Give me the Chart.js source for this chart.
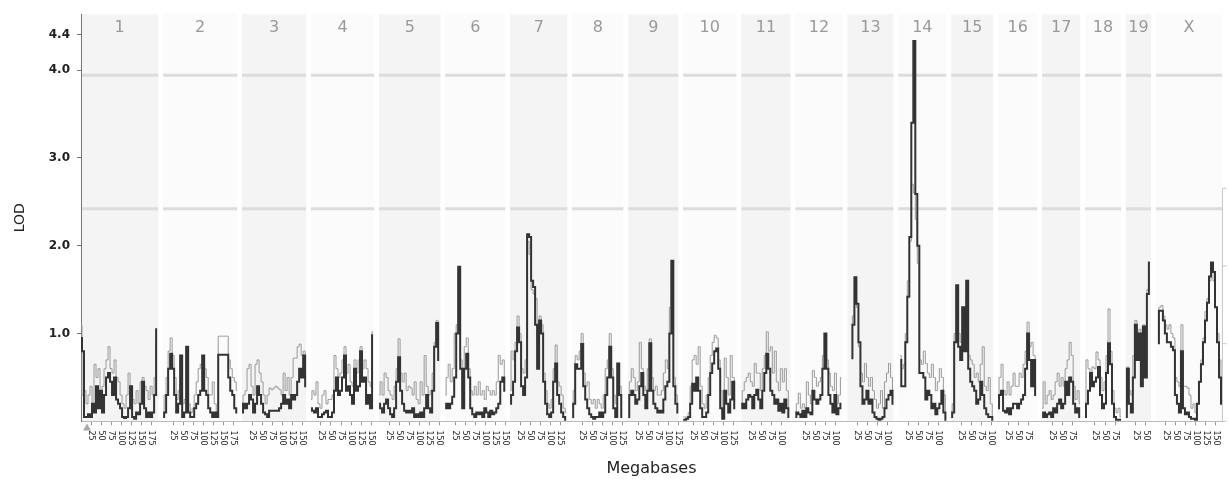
<!DOCTYPE html>
<html>
<head>
<meta charset="utf-8">
<script src="https://cdn.jsdelivr.net/npm/chart.js@4/dist/chart.umd.min.js"></script>
<style>
  html, body { margin: 0; padding: 0; background: #fff; }
</style>
</head>
<body>
<canvas id="myChart" width="1229" height="480"></canvas>
<script>
// Chromosomes and their drawn lengths (Mb)
const chromNames = ['1', '2', '3', '4', '5', '6', '7', '8', '9', '10', '11', '12', '13', '14', '15', '16', '17', '18', '19', 'X'];
const chromLengths = [193, 185, 160, 158, 153, 150, 143, 128, 125, 133, 123, 118, 115, 120, 105, 98, 95, 90, 63, 165];
const chromGap = 12;   // Mb of white space between panels
const stepMb = 5;      // spacing of the LOD values below

// Axis ticks
const lodTicks = [1, 2, 3, 4, 4.4];
const mbTicks = [25, 50, 75, 100, 125, 150, 175];
const thresholds = [3.94, 2.42];
const rightTicks = [0, 1, 2, 3];
const markerMb = 15; // small triangle under chromosome 1

// LOD scores, one array per chromosome, every 5 Mb (dark line)
const lodDark = [
  [0.95,0.8,0.05,0.05,0.08,0.05,0.2,0.1,0.4,0.15,0.35,0.1,0.3,0.5,0.55,0.45,0.3,0.5,0.25,0.2,0.15,0.05,0.04,0.05,0.15,0.4,0.05,0.03,0.1,0.08,0.2,0.45,0.15,0.05,0.1,0.05,0.1,0.3,1.05],
  [0.05,0.1,0.3,0.6,0.77,0.6,0.3,0.1,0.2,0.75,0.05,0.1,0.85,0.1,0.05,0.05,0.15,0.2,0.3,0.35,0.75,0.35,0.3,0.15,0.1,0.05,0.1,0.05,0.76,0.76,0.76,0.76,0.76,0.5,0.35,0.3,0.15,0.1],
  [0.1,0.2,0.15,0.2,0.3,0.25,0.1,0.2,0.4,0.3,0.2,0.1,0.08,0.05,0.12,0.12,0.12,0.12,0.12,0.15,0.2,0.3,0.2,0.25,0.15,0.3,0.25,0.3,0.45,0.6,0.5,0.75,0.4],
  [0.15,0.12,0.1,0.15,0.05,0.05,0.08,0.1,0.12,0.05,0.05,0.1,0.35,0.5,0.3,0.35,0.5,0.75,0.35,0.4,0.3,0.2,0.6,0.35,0.4,0.8,0.45,0.5,0.2,0.3,0.15,0.98],
  [0.2,0.15,0.1,0.2,0.25,0.15,0.08,0.05,0.15,0.45,0.73,0.35,0.2,0.12,0.1,0.12,0.1,0.15,0.05,0.08,0.05,0.1,0.05,0.15,0.3,0.15,0.1,0.35,0.85,1.12,0.7],
  [0.15,0.2,0.15,0.2,0.28,0.5,1.0,1.76,0.6,0.15,0.6,0.77,0.5,0.15,0.08,0.05,0.1,0.08,0.1,0.05,0.15,0.1,0.05,0.12,0.08,0.1,0.15,0.2,0.45,0.5,0.35],
  [0.2,0.3,0.45,0.8,1.07,0.9,0.4,0.3,0.5,2.13,2.1,1.6,1.53,1.1,0.6,1.15,1.0,0.45,0.2,0.08,0.05,0.1,0.45,0.66,0.3,0.2,0.1,0.05,0.02],
  [0.05,0.2,0.65,0.6,0.6,0.88,0.4,0.25,0.15,0.08,0.05,0.03,0.05,0.05,0.1,0.05,0.1,0.3,0.5,0.85,0.5,0.15,0.05,0.66,0.3,0.05],
  [0.05,0.3,0.35,0.3,0.2,0.25,0.4,0.55,0.3,0.15,0.35,0.89,0.35,0.2,0.15,0.1,0.12,0.1,0.25,0.4,0.45,1.0,1.83,0.4,0.2,0.1],
  [0.02,0.02,0.03,0.05,0.2,0.43,0.35,0.5,0.35,0.15,0.05,0.05,0.1,0.3,0.55,0.66,0.8,0.83,0.6,0.15,0.03,0.35,0.2,0.1,0.25,0.45,0.15],
  [0.15,0.2,0.15,0.25,0.3,0.28,0.15,0.3,0.36,0.25,0.15,0.35,0.55,0.77,0.6,0.35,0.3,0.2,0.25,0.12,0.2,0.1,0.25,0.15,0.05],
  [0.05,0.1,0.08,0.05,0.12,0.05,0.15,0.1,0.08,0.35,0.25,0.2,0.25,0.3,0.6,1.0,0.6,0.3,0.2,0.1,0.3,0.08,0.15,0.2],
  [null,null,0.72,1.1,1.64,1.34,0.9,0.4,0.2,0.25,0.35,0.2,0.25,0.1,0.05,0.03,0.02,0.03,0.05,0.15,0.25,0.3,0.35,0.2],
  [null,0.7,0.4,0.4,0.9,1.42,2.1,3.4,4.33,2.59,2.0,0.55,0.55,0.5,0.25,0.35,0.3,0.15,0.2,0.08,0.15,0.2,0.35,0.1,0.02],
  [0.05,0.1,0.9,1.55,0.85,0.7,1.3,0.8,1.6,0.6,0.45,0.4,0.35,0.2,0.25,0.45,0.3,0.15,0.08,0.05,0.05,0.02],
  [0.15,0.3,0.35,0.12,0.1,0.15,0.08,0.15,0.2,0.2,0.15,0.2,0.25,0.3,0.6,1.0,0.7,0.4,0.7,0.3],
  [0.05,0.1,0.05,0.08,0.1,0.05,0.15,0.1,0.2,0.25,0.15,0.2,0.45,0.3,0.5,0.45,0.2,0.1,0.15,0.05],
  [0.05,0.2,0.35,0.55,0.4,0.45,0.5,0.62,0.3,0.15,0.2,0.55,0.89,0.65,0.2,0.05,0.02,0.02,0.02],
  [0.05,0.6,0.2,0.1,0.5,1.1,0.7,1.0,0.4,1.08,0.5,1.45,1.81],
  [null,0.89,1.26,1.26,1.15,1.0,0.9,0.9,0.85,0.81,0.3,0.2,0.1,0.8,0.15,0.08,0.1,0.05,0.03,0.03,0.02,0.2,0.45,0.65,0.9,1.15,1.35,1.65,1.81,1.7,1.3,0.9,0.5,0.2]
];

// LOD scores, second scan (light grey line)
const lodLight = [
  [1.1,0.3,0.35,0.2,0.3,0.4,0.2,0.65,0.5,0.6,0.3,0.4,0.6,0.7,0.85,0.6,0.55,0.7,0.5,0.45,0.3,0.2,0.15,0.3,0.55,0.3,0.25,0.2,0.35,0.2,0.45,0.5,0.4,0.35,0.25,0.4,0.3,0.5,0.9],
  [0.1,0.3,0.5,0.8,0.95,0.75,0.5,0.25,0.35,0.7,0.2,0.25,0.8,0.2,0.1,0.15,0.3,0.45,0.6,0.65,0.7,0.6,0.5,0.3,0.3,0.45,0.2,0.1,0.97,0.97,0.97,0.97,0.97,0.7,0.6,0.5,0.45,0.35],
  [0.15,0.3,0.35,0.6,0.65,0.4,0.3,0.65,0.7,0.55,0.45,0.3,0.2,0.3,0.38,0.36,0.38,0.4,0.38,0.36,0.3,0.55,0.35,0.5,0.3,0.5,0.72,0.72,0.85,0.88,0.75,0.8,0.5],
  [0.25,0.35,0.3,0.45,0.2,0.15,0.3,0.35,0.2,0.25,0.25,0.3,0.75,0.6,0.5,0.55,0.7,0.85,0.55,0.65,0.45,0.4,0.7,0.55,0.7,0.85,0.6,0.7,0.6,0.45,0.4,1.02],
  [0.3,0.45,0.3,0.55,0.5,0.35,0.3,0.25,0.4,0.6,0.94,0.55,0.45,0.55,0.35,0.4,0.38,0.3,0.45,0.25,0.2,0.45,0.3,0.75,0.4,0.3,0.35,0.55,0.9,1.15,0.75],
  [0.3,0.5,0.65,0.45,0.6,1.0,1.1,1.7,0.7,0.35,0.85,0.95,0.6,0.35,0.3,0.4,0.3,0.45,0.3,0.35,0.25,0.4,0.35,0.3,0.35,0.3,0.45,0.75,0.65,0.7,0.45],
  [0.35,0.8,0.7,0.9,1.2,1.0,0.6,0.55,0.7,2.05,1.9,1.5,1.45,1.4,0.85,1.2,1.1,0.55,0.35,0.2,0.15,0.25,0.6,0.87,0.45,0.4,0.3,0.15,0.1],
  [0.1,0.35,0.75,0.7,0.8,1.0,0.55,0.4,0.45,0.25,0.2,0.25,0.15,0.25,0.2,0.15,0.3,0.6,0.7,1.0,0.6,0.3,0.2,0.65,0.4,0.1],
  [0.1,0.45,0.6,0.5,0.35,0.45,0.9,0.6,0.4,0.35,0.6,0.94,0.5,0.35,0.4,0.3,0.3,0.35,0.55,0.7,0.6,1.3,1.8,0.5,0.3,0.2],
  [0.05,0.05,0.05,0.1,0.4,0.7,0.75,0.65,0.85,0.4,0.2,0.15,0.3,0.5,0.75,0.9,0.98,0.95,0.7,0.35,0.1,0.72,0.5,0.3,0.75,0.5,0.25],
  [0.2,0.35,0.45,0.5,0.55,0.45,0.4,0.66,0.55,0.55,0.35,0.6,0.75,1.02,0.8,0.85,0.55,0.8,0.45,0.35,0.6,0.45,0.6,0.35,0.15],
  [0.1,0.2,0.32,0.15,0.2,0.15,0.45,0.3,0.2,0.58,0.5,0.4,0.45,0.5,0.75,0.95,0.7,0.55,0.4,0.35,0.55,0.2,0.3,0.5],
  [null,null,0.9,1.2,1.5,1.3,0.85,0.55,0.45,0.66,0.5,0.4,0.5,0.35,0.25,0.15,0.2,0.35,0.15,0.45,0.55,0.66,0.5,0.35],
  [null,0.75,0.6,0.65,1.0,1.6,2.05,2.7,2.6,2.3,1.8,0.7,0.65,0.8,0.66,0.55,0.5,0.65,0.5,0.35,0.45,0.6,0.5,0.3,0.1],
  [0.1,0.2,1.0,1.5,1.0,0.9,1.3,1.0,1.45,0.75,0.7,0.65,0.5,0.55,0.45,0.65,0.85,0.4,0.35,0.5,0.2,0.05],
  [0.2,0.5,0.65,0.35,0.3,0.45,0.3,0.4,0.55,0.4,0.4,0.55,0.5,0.65,0.8,1.13,0.85,0.9,0.75,0.4],
  [0.15,0.45,0.2,0.3,0.35,0.25,0.3,0.45,0.55,0.4,0.5,0.4,0.6,0.7,0.9,0.75,0.4,0.25,0.35,0.2],
  [0.1,0.7,0.6,0.5,0.62,0.6,0.79,0.7,0.5,0.35,0.45,0.75,1.28,0.8,0.35,0.15,0.1,0.15,0.05],
  [0.1,0.62,0.35,0.3,0.75,1.15,0.9,1.05,0.75,1.1,0.7,1.5,1.75],
  [null,0.95,1.3,1.32,1.2,1.1,1.05,1.1,1.0,0.95,0.5,0.45,0.4,1.1,0.4,0.4,0.38,0.3,0.15,0.2,0.1,0.2,0.45,0.7,0.95,1.25,1.4,1.6,1.7,1.6,1.3,1.0,0.7,0.5]
];

// start of every chromosome on the genome axis
const chromStart = [];
let pos = 0;
chromLengths.forEach(len => { chromStart.push(pos); pos += len + chromGap; });
const genomeEnd = pos - chromGap;

function buildPoints(series) {
  const pts = [];
  series.forEach((vals, c) => {
    vals.forEach((v, i) => pts.push({ x: chromStart[c] + i * stepMb, y: v }));
    pts.push({ x: chromStart[c] + chromLengths[c] + chromGap / 2, y: null });
  });
  return pts;
}

const xTickValues = [];
chromLengths.forEach((len, c) => {
  mbTicks.filter(t => t <= len).forEach(t => xTickValues.push({ value: chromStart[c] + t, mb: t }));
});

const panelPlugin = {
  id: 'panels',
  beforeDraw(chart) {
    const { ctx, chartArea } = chart;
    const x = chart.scales.x, y = chart.scales.y;
    ctx.save();
    chromNames.forEach((name, c) => {
      const x0 = x.getPixelForValue(chromStart[c]);
      const x1 = x.getPixelForValue(chromStart[c] + chromLengths[c]);
      ctx.fillStyle = c % 2 === 0 ? '#f4f4f4' : '#fbfbfb';
      ctx.fillRect(x0, chartArea.top, x1 - x0, chartArea.bottom - chartArea.top);
      ctx.strokeStyle = '#dcdcdc';
      ctx.lineWidth = 3;
      thresholds.forEach(t => {
        const ty = y.getPixelForValue(t);
        ctx.beginPath();
        ctx.moveTo(x0, ty);
        ctx.lineTo(x1, ty);
        ctx.stroke();
      });
      ctx.fillStyle = '#999';
      ctx.font = '16px "DejaVu Sans"';
      ctx.textAlign = 'center';
      ctx.textBaseline = 'middle';
      ctx.fillText(name, (x0 + x1) / 2, chartArea.top + 14);
    });
    ctx.restore();
  },
  afterDraw(chart) {
    const { ctx, chartArea } = chart;
    const x = chart.scales.x, y2 = chart.scales.y2;
    ctx.save();
    // rotated megabase labels, reading downwards
    ctx.fillStyle = '#222';
    ctx.font = '8px "DejaVu Sans"';
    ctx.textAlign = 'left';
    ctx.textBaseline = 'middle';
    xTickValues.forEach(t => {
      ctx.save();
      ctx.translate(x.getPixelForValue(t.value), chartArea.bottom + 9);
      ctx.rotate(Math.PI / 2);
      ctx.fillText(String(t.mb), 0, 0);
      ctx.restore();
    });
    // triangle marker under chromosome 1
    const mx = x.getPixelForValue(chromStart[0] + markerMb);
    const my = chartArea.bottom + 2;
    ctx.fillStyle = '#aaa';
    ctx.beginPath();
    ctx.moveTo(mx, my);
    ctx.lineTo(mx - 4, my + 7);
    ctx.lineTo(mx + 4, my + 7);
    ctx.closePath();
    ctx.fill();
    // partial right-hand axis
    const rx = chartArea.right + 0.5;
    ctx.strokeStyle = '#c8c8c8';
    ctx.lineWidth = 1;
    ctx.beginPath();
    ctx.moveTo(rx, y2.getPixelForValue(rightTicks[rightTicks.length - 1]));
    ctx.lineTo(rx, y2.getPixelForValue(rightTicks[0]));
    rightTicks.forEach(t => {
      const ty = y2.getPixelForValue(t);
      ctx.moveTo(rx, ty);
      ctx.lineTo(rx + 4, ty);
    });
    ctx.stroke();
    ctx.restore();
  }
};

const ctx = document.getElementById('myChart').getContext('2d');
const myChart = new Chart(ctx, {
  type: 'line',
  data: {
    datasets: [{
      label: 'LOD',
      data: buildPoints(lodDark),
      borderColor: '#333',
      borderWidth: 2,
      stepped: 'middle',
      pointRadius: 0,
      spanGaps: false
    }, {
      label: 'LOD 2',
      data: buildPoints(lodLight),
      borderColor: '#999',
      borderWidth: 1,
      stepped: 'middle',
      pointRadius: 0,
      spanGaps: false
    }]
  },
  options: {
    responsive: false,
    animation: false,
    devicePixelRatio: 1,
    layout: { padding: { top: 13, right: 7, left: 0, bottom: 0 } },
    plugins: { legend: { display: false }, tooltip: { enabled: false } },
    scales: {
      x: {
        type: 'linear',
        min: 0,
        max: genomeEnd,
        afterBuildTicks: scale => { scale.ticks = xTickValues.map(t => ({ value: t.value })); },
        afterFit: scale => { scale.height = 58.6; },
        ticks: { display: false, autoSkip: false },
        grid: { drawOnChartArea: false, drawTicks: true, tickLength: 4, color: '#999' },
        border: { color: '#bbb' },
        title: {
          display: true,
          text: 'Megabases',
          color: '#222',
          font: { family: 'DejaVu Sans', size: 16 },
          padding: { top: 2, bottom: 2 }
        }
      },
      y: {
        min: 0,
        max: 4.636,
        afterBuildTicks: scale => { scale.ticks = lodTicks.map(v => ({ value: v })); },
        afterFit: scale => { scale.width = 81; },
        ticks: {
          color: '#222',
          padding: 7,
          font: { family: 'DejaVu Sans', size: 12, weight: 'bold' },
          callback: v => v.toFixed(1)
        },
        grid: { drawOnChartArea: false, drawTicks: true, tickLength: 4, color: '#777' },
        border: { color: '#777' },
        title: {
          display: true,
          text: 'LOD',
          color: '#222',
          font: { family: 'DejaVu Sans', size: 14 },
          padding: { top: 12, bottom: 0 }
        }
      },
      y2: {
        display: false,
        position: 'right',
        min: 0,
        max: 5.24
      }
    }
  },
  plugins: [panelPlugin]
});
</script>
</body>
</html>
